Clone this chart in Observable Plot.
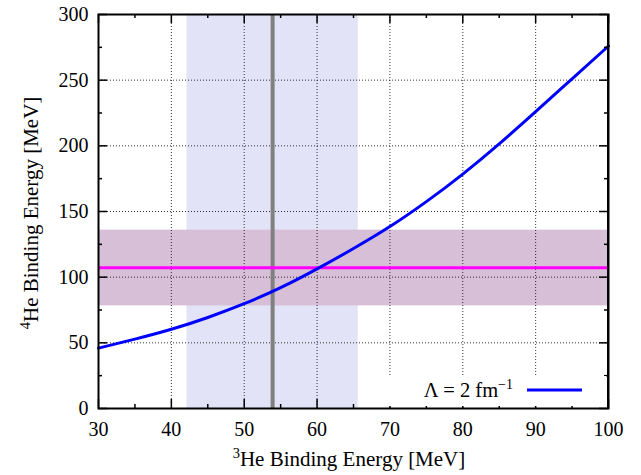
<!DOCTYPE html>
<html>
<head>
<meta charset="utf-8">
<script src="https://cdn.jsdelivr.net/npm/d3@7"></script>
<script src="https://cdn.jsdelivr.net/npm/@observablehq/plot@0.6"></script>
<style>
  html, body { margin: 0; padding: 0; background: #fff; }
  #chart svg { display: block; }
</style>
</head>
<body>
<div id="chart"></div>
<script>
// ---- data ----
const he3 = [30, 35, 40, 45, 50, 55, 60, 65, 70, 75, 80, 85, 90, 95, 100];
const he4 = [46, 52.8, 60.3, 69.3, 79.8, 92, 106.3, 121.8, 138.5, 157.5, 178.5, 201.5, 226, 251, 276];
const he3Band = [42.15, 65.65];      // 3He experimental band
const he3Value = 53.9;               // 3He central value
const he4Band = [78.1, 135.8];       // 4He experimental band
const he4Value = 107.1;              // 4He central value
const xMajor = [30, 40, 50, 60, 70, 80, 90, 100];
const xMinor = [35, 45, 55, 65, 75, 85, 95];
const yMajor = [0, 50, 100, 150, 200, 250, 300];
const yMinor = [25, 75, 125, 175, 225, 275];
const xGrid = [40, 50, 60, 70, 80, 90];
const yGrid = [50, 100, 150, 200, 250];
const legendLabel = "Λ = 2 fm";

const curve = he3.map((x, i) => ({x, y: he4[i]}));

const W = 641, H = 475;
const mt = 14, mr = 33, mb = 67, ml = 98;
const ph = H - mt - mb, pw = W - ml - mr;
const font = "'Liberation Serif', 'DejaVu Serif', serif";

const chart = Plot.plot({
  width: W, height: H,
  marginTop: mt, marginRight: mr, marginBottom: mb, marginLeft: ml,
  style: {fontFamily: font, fontSize: "20px", background: "#fff", color: "#000"},
  x: {domain: [30, 100], axis: null},
  y: {domain: [0, 300], axis: null},
  marks: [
    Plot.rect([he3Band], {x1: d => d[0], x2: d => d[1], fill: "#e3e3f7"}),
    Plot.rect([he4Band], {y1: d => d[0], y2: d => d[1], fill: "#d8bfd8"}),
    Plot.ruleX(xGrid, {x: d => d, stroke: "#000", strokeWidth: 1, strokeDasharray: "1,2", strokeOpacity: 0.8}),
    Plot.ruleY(yGrid, {y: d => d, stroke: "#000", strokeWidth: 1, strokeDasharray: "1,2", strokeOpacity: 0.8}),
    Plot.ruleX([he3Value], {x: d => d, stroke: "#808080", strokeWidth: 4}),
    Plot.ruleY([he4Value], {y: d => d, stroke: "#ff00ff", strokeWidth: 3}),
    Plot.line(curve, {x: "x", y: "y", stroke: "#0000ff", strokeWidth: 3, curve: "natural"}),
    // inward ticks, all four sides
    Plot.tickX(xMajor, {x: d => d, insetTop: ph - 9, stroke: "#000", strokeWidth: 1.5}),
    Plot.tickX(xMajor, {x: d => d, insetBottom: ph - 9, stroke: "#000", strokeWidth: 1.5}),
    Plot.tickX(xMinor, {x: d => d, insetTop: ph - 4, stroke: "#000", strokeWidth: 1.5}),
    Plot.tickX(xMinor, {x: d => d, insetBottom: ph - 4, stroke: "#000", strokeWidth: 1.5}),
    Plot.tickY(yMajor, {y: d => d, insetRight: pw - 9, stroke: "#000", strokeWidth: 1.5}),
    Plot.tickY(yMajor, {y: d => d, insetLeft: pw - 9, stroke: "#000", strokeWidth: 1.5}),
    Plot.tickY(yMinor, {y: d => d, insetRight: pw - 4, stroke: "#000", strokeWidth: 1.5}),
    Plot.tickY(yMinor, {y: d => d, insetLeft: pw - 4, stroke: "#000", strokeWidth: 1.5}),
    Plot.axisX(xMajor, {tickSize: 0, tickPadding: 13, fontSize: 20, fontFamily: font, label: null}),
    Plot.axisY(yMajor, {tickSize: 0, tickPadding: 10, fontSize: 20, fontFamily: font, label: null}),
    Plot.frame({stroke: "#000", strokeWidth: 2})
  ]
});

const svg = d3.select(chart);

// legend (white box, text, line sample)
const lg = svg.append("g");
lg.append("rect").attr("x", 385).attr("y", 376).attr("width", 221).attr("height", 30).attr("fill", "#fff");
const lt = lg.append("text").attr("x", 513).attr("y", 397).attr("text-anchor", "end")
  .attr("font-family", font).attr("font-size", 20.5).attr("fill", "#000");
lt.append("tspan").text(legendLabel);
lt.append("tspan").attr("dy", -8).attr("font-size", 14).text("−1");
lg.append("line").attr("x1", 527).attr("x2", 582).attr("y1", 390).attr("y2", 390)
  .attr("stroke", "#0000ff").attr("stroke-width", 3);
// redraw right frame edge over legend box
svg.append("line").attr("x1", W - mr).attr("x2", W - mr).attr("y1", mt).attr("y2", H - mb)
  .attr("stroke", "#000").attr("stroke-width", 2);

// axis labels with superscripts
const xl = svg.append("text").attr("x", ml + pw / 2 - 4).attr("y", 466).attr("text-anchor", "middle")
  .attr("font-family", font).attr("font-size", 21).attr("fill", "#000");
xl.append("tspan").attr("dy", -8).attr("font-size", 14.5).text("3");
xl.append("tspan").attr("dy", 8).text("He Binding Energy [MeV]");

const yl = svg.append("text").attr("transform", `translate(38,${mt + ph / 2 + 2}) rotate(-90)`)
  .attr("text-anchor", "middle")
  .attr("font-family", font).attr("font-size", 21).attr("fill", "#000");
yl.append("tspan").attr("dy", -8).attr("font-size", 14.5).text("4");
yl.append("tspan").attr("dy", 8).text("He Binding Energy [MeV]");

document.getElementById("chart").appendChild(chart);
</script>
</body>
</html>
